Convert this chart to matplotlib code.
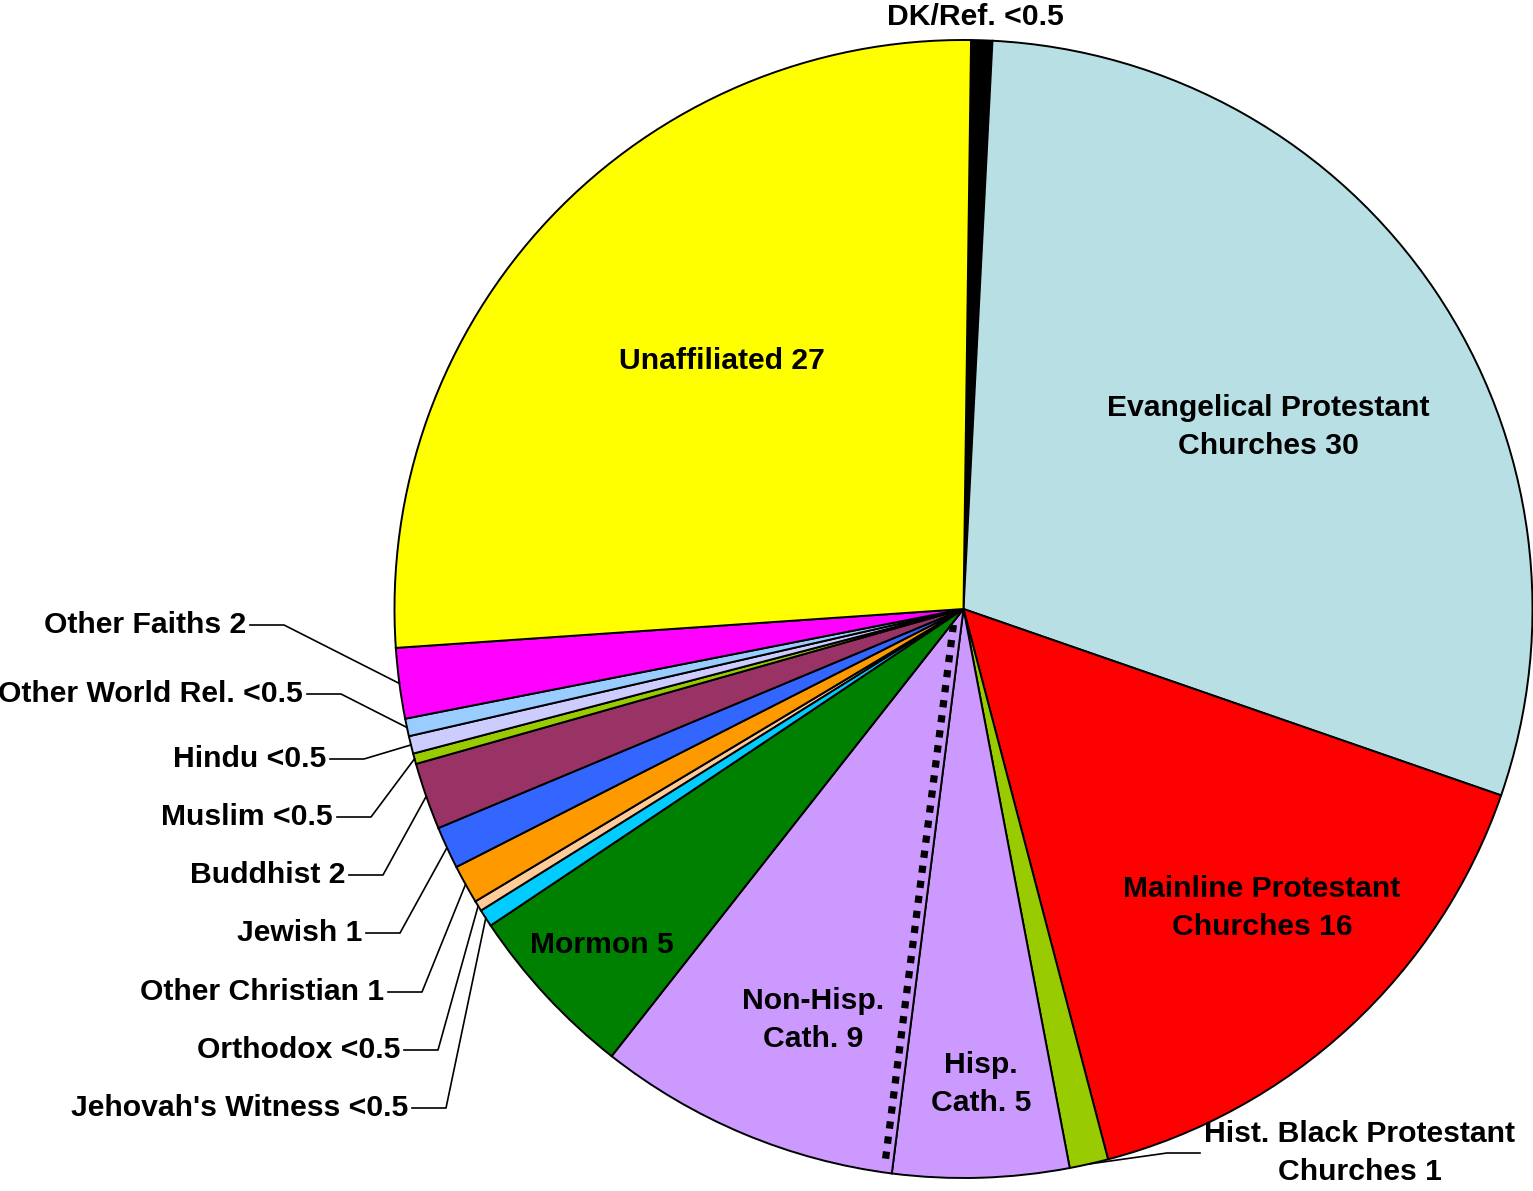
import numpy as np
import matplotlib
matplotlib.use("Agg")
import matplotlib.pyplot as plt

plt.rcParams['font.family'] = ['Liberation Sans', 'DejaVu Sans']

# data, clockwise from 12 o'clock
names = ["DK/Ref. <0.5", "Evangelical Protestant\nChurches 30", "Mainline Protestant\nChurches 16",
         "Hist. Black Protestant\nChurches 1", "Hisp.\nCath. 5", "Non-Hisp.\nCath. 9", "Mormon 5",
         "Jehovah's Witness <0.5", "Orthodox <0.5", "Other Christian 1", "Jewish 1", "Buddhist 2",
         "Muslim <0.5", "Hindu <0.5", "Other World Rel. <0.5", "Other Faiths 2", "Unaffiliated 27"]
shares = [0.6, 29.5, 15.6, 1.1, 5.0, 8.6, 5.0, 0.5, 0.3, 1.1, 1.2, 1.9, 0.3, 0.5, 0.5, 2.0, 26.3]
colors = ["#000000", "#B8E0E4", "#FF0000", "#99CC00", "#CC99FF", "#CC99FF", "#008000",
          "#00CCFF", "#FFCC99", "#FF9900", "#3366FF", "#993366", "#99CC00", "#CCCCFF",
          "#99CCFF", "#FF00FF", "#FFFF00"]

W, H = 1533, 1191
cx, cy, R = 963.5, 609.0, 569.0

def px(x, y):
    return ((x - cx) / R, (cy - y) / R)

fig = plt.figure(figsize=(W / 100, H / 100), dpi=100)
ax = fig.add_axes([0, 0, 1, 1])

wedges, _ = ax.pie(shares, colors=colors, startangle=89.24, counterclock=False, radius=1.0,
                   wedgeprops=dict(edgecolor='black', linewidth=1.4))

ax.set_xlim(-cx / R, (W - cx) / R)
ax.set_ylim((cy - H) / R, cy / R)
ax.set_aspect('equal')
ax.axis('off')

# label layout in pixels: (x, y, ha, leader)
layout = {
    0: (975, 17, 'center', False),
    1: (1268, 427, 'center', False),
    2: (1262, 908, 'center', False),
    3: (1360, 1153, 'center', True),
    4: (981, 1084, 'center', False),
    5: (813, 1020, 'center', False),
    6: (602, 945, 'center', False),
    7: (408, 1108, 'right', True),
    8: (400, 1050, 'right', True),
    9: (384, 992, 'right', True),
    10: (362, 933, 'right', True),
    11: (345, 875, 'right', True),
    12: (333, 817, 'right', True),
    13: (326, 759, 'right', True),
    14: (303, 694, 'right', True),
    15: (246, 625, 'right', True),
    16: (722, 361, 'center', False),
}

fs = 21.7
for i, w in enumerate(wedges):
    x, y, ha, leader = layout[i]
    tx, ty = px(x, y)
    ax.text(tx, ty, names[i], ha=ha, va='center', fontsize=fs, fontweight='bold',
            linespacing=1.45, multialignment='center')
    if leader:
        mid = np.deg2rad((w.theta1 + w.theta2) / 2)
        ex, ey = np.cos(mid), np.sin(mid)
        if ha == 'right':
            x0, y0 = px(x + 4, y)
            x1, y1 = px(x + 38, y)
        else:
            x0, y0 = px(1200, y)
            x1, y1 = px(1167, y)
        ax.plot([x0, x1, ex], [y0, y1, ey], color='black', lw=1.2)

# dotted separator between Hispanic and non-Hispanic Catholics
b = np.deg2rad(wedges[5].theta2)
d = np.array([np.cos(b), np.sin(b)])
n = np.array([d[1], -d[0]]) * (8 / R)
p0 = d * 0.03 + n
p1 = d * 0.985 + n
ax.plot([p0[0], p1[0]], [p0[1], p1[1]], color='black', lw=5.2,
        linestyle=(0, (1, 1.1)), dash_capstyle='butt')

fig.savefig("out.png", dpi=100)
